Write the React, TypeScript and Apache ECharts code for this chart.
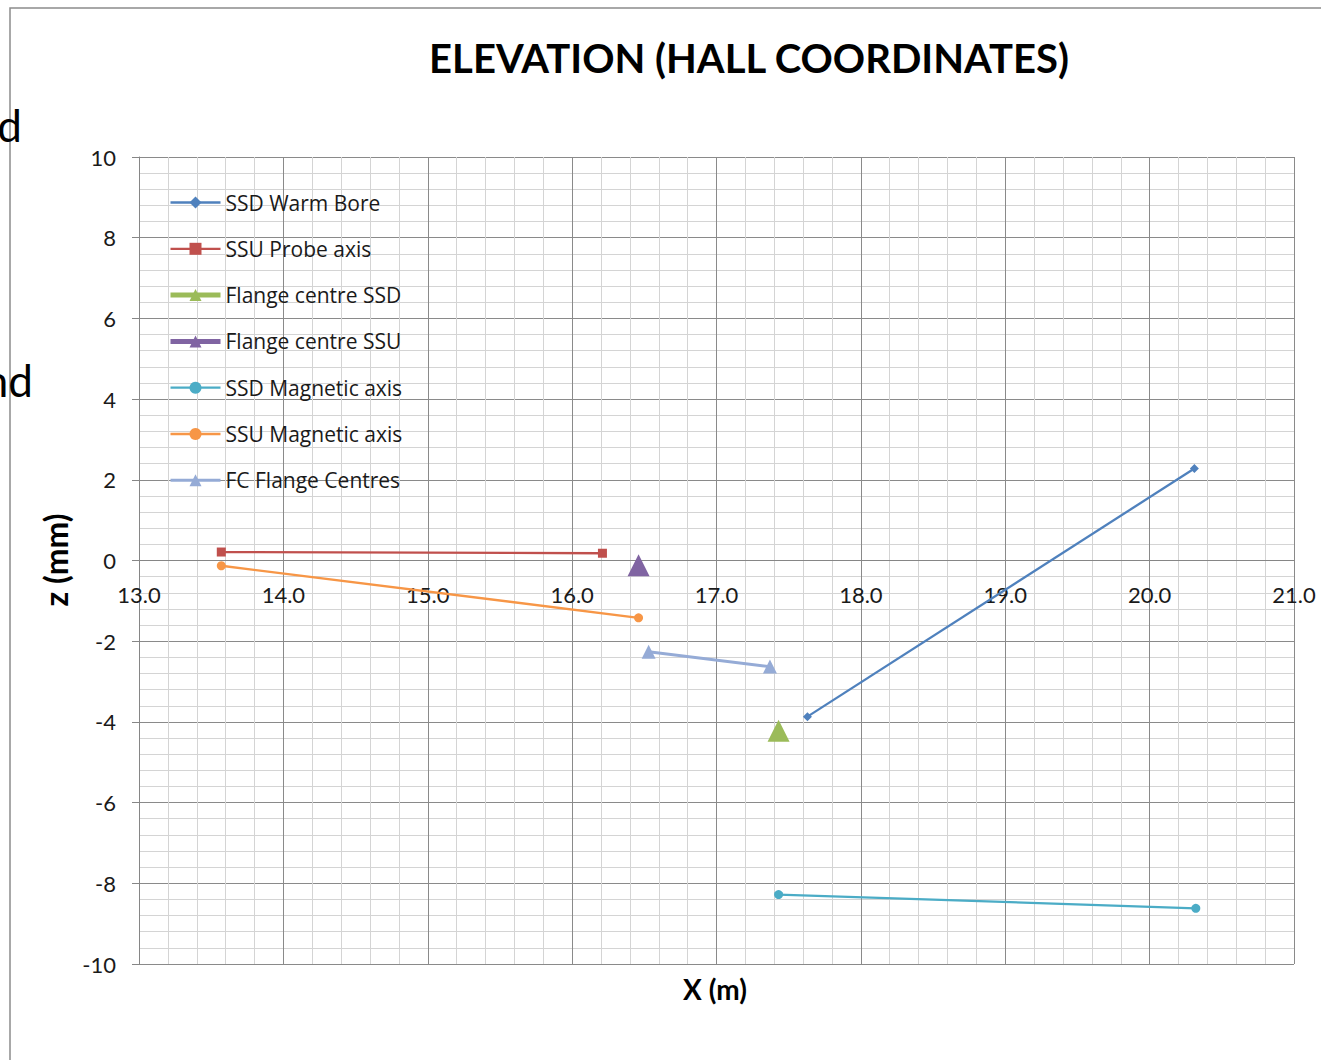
import React, { useEffect, useRef } from "react";
import * as echarts from "echarts";

const seriesNames = [
  "SSD Warm Bore",
  "SSU Probe axis",
  "Flange centre SSD",
  "Flange centre SSU",
  "SSD Magnetic axis",
  "SSU Magnetic axis",
  "FC Flange Centres",
];
const seriesColors = ["#4F81BD", "#C0504D", "#9BBB59", "#8064A2", "#4BACC6", "#F79646", "#95ABD6"];
const seriesSymbols = ["diamond", "rect", "triangle", "triangle", "circle", "circle", "triangle"];
const seriesSymbolSizes = [9, 9, 22, 22, 9, 9, 14];
const seriesLineWidths = [2.3, 2.3, 5, 5, 2.3, 2.3, 3];

const ssdWarmBore = [[17.63, -3.87], [20.31, 2.28]];
const ssuProbeAxis = [[13.57, 0.21], [16.21, 0.18]];
const flangeCentreSSD = [[17.43, -4.22]];
const flangeCentreSSU = [[16.46, -0.12]];
const ssdMagneticAxis = [[17.43, -8.28], [20.32, -8.62]];
const ssuMagneticAxis = [[13.57, -0.13], [16.46, -1.42]];
const fcFlangeCentres = [[16.53, -2.26], [17.37, -2.63]];

const seriesData = [
  ssdWarmBore,
  ssuProbeAxis,
  flangeCentreSSD,
  flangeCentreSSU,
  ssdMagneticAxis,
  ssuMagneticAxis,
  fcFlangeCentres,
];

const xRange = [13, 21];
const yRange = [-10, 10];

export default function App() {
  const ref = useRef<HTMLDivElement>(null);
  useEffect(() => {
    document.body.style.margin = "0";
    const chart = echarts.init(ref.current!, null, { renderer: "svg" });
    const font = "Lato, 'Noto Sans', sans-serif";
    const gridTop = 157;
    const gridHeight = 807;
    // distance from the bottom of the plot up to the y = 0 line
    const zeroOffset = (gridHeight * (0 - yRange[0])) / (yRange[1] - yRange[0]);
    const option = {
      animation: false,
      backgroundColor: "#ffffff",
      textStyle: { fontFamily: font },
      grid: { left: 139, top: gridTop, width: 1155, height: gridHeight },
      graphic: [
        {
          type: "rect",
          shape: { x: 10, y: 8, width: 1330, height: 1070 },
          style: { fill: "none", stroke: "#8c8c8c", lineWidth: 1.5 },
          silent: true,
        },
        {
          type: "text",
          x: 22,
          y: 125,
          style: { text: "d", font: "44px Lato, sans-serif", fill: "#000", textAlign: "right", textVerticalAlign: "middle" },
        },
        {
          type: "text",
          x: 33,
          y: 380,
          style: { text: "nd", font: "44px Lato, sans-serif", fill: "#000", textAlign: "right", textVerticalAlign: "middle" },
        },
        {
          type: "text",
          x: 749,
          y: 58,
          style: { text: "ELEVATION (HALL COORDINATES)", font: "bold 40px Lato, sans-serif", fill: "#000", textAlign: "center", textVerticalAlign: "middle" },
        },
        {
          type: "text",
          x: 715,
          y: 989,
          style: { text: "X (m)", font: "bold 28px Lato, sans-serif", fill: "#000", textAlign: "center", textVerticalAlign: "middle" },
        },
        {
          type: "text",
          x: 55,
          y: 560,
          rotation: Math.PI / 2,
          style: { text: "z (mm)", font: "bold 32px Lato, sans-serif", fill: "#000", textAlign: "center", textVerticalAlign: "middle" },
        },
      ],
      legend: {
        orient: "vertical",
        left: 163,
        top: 187,
        itemWidth: 50,
        itemHeight: 15,
        itemGap: 25.3,
        textStyle: { fontSize: 21, color: "#1a1a1a", fontFamily: "'Open Sans', sans-serif" },
        data: seriesNames.map((name, i) => ({
          name,
          lineStyle: { width: seriesLineWidths[i] },
        })),
      },
      xAxis: {
        type: "value",
        min: xRange[0],
        max: xRange[1],
        interval: 1,
        position: "bottom",
        offset: -zeroOffset,
        axisLine: { show: true, onZero: false, lineStyle: { color: "#868686", width: 1 } },
        axisTick: { show: false },
        axisLabel: { fontSize: 22, color: "#1a1a1a", margin: 23, formatter: (v: number) => v.toFixed(1) },
        splitLine: { show: true, lineStyle: { color: "#8a8a8a", width: 1 } },
        minorTick: { show: false, splitNumber: 5 },
        minorSplitLine: { show: true, lineStyle: { color: "#d4d4d4", width: 1 } },
      },
      yAxis: {
        type: "value",
        min: yRange[0],
        max: yRange[1],
        interval: 2,
        axisLine: { show: true, onZero: false, lineStyle: { color: "#868686", width: 1 } },
        axisTick: { show: true, inside: false, length: 7, lineStyle: { color: "#868686" } },
        axisLabel: { fontSize: 22, color: "#1a1a1a", margin: 23 },
        splitLine: { show: true, lineStyle: { color: "#8a8a8a", width: 1 } },
        minorTick: { show: false, splitNumber: 5 },
        minorSplitLine: { show: true, lineStyle: { color: "#d4d4d4", width: 1 } },
      },
      series: seriesNames.map((name, i) => ({
        name,
        type: "line",
        data: seriesData[i],
        symbol: seriesSymbols[i],
        symbolSize: seriesSymbolSizes[i],
        showAllSymbol: true,
        color: seriesColors[i],
        lineStyle: { color: seriesColors[i], width: seriesLineWidths[i] },
        itemStyle: { color: seriesColors[i] },
        emphasis: { disabled: true },
        z: 3,
      })),
    };
    chart.setOption(option as any);
    return () => chart.dispose();
  }, []);
  return <div ref={ref} style={{ position: "fixed", left: 0, top: 0, width: 1321, height: 1060 }} />;
}
